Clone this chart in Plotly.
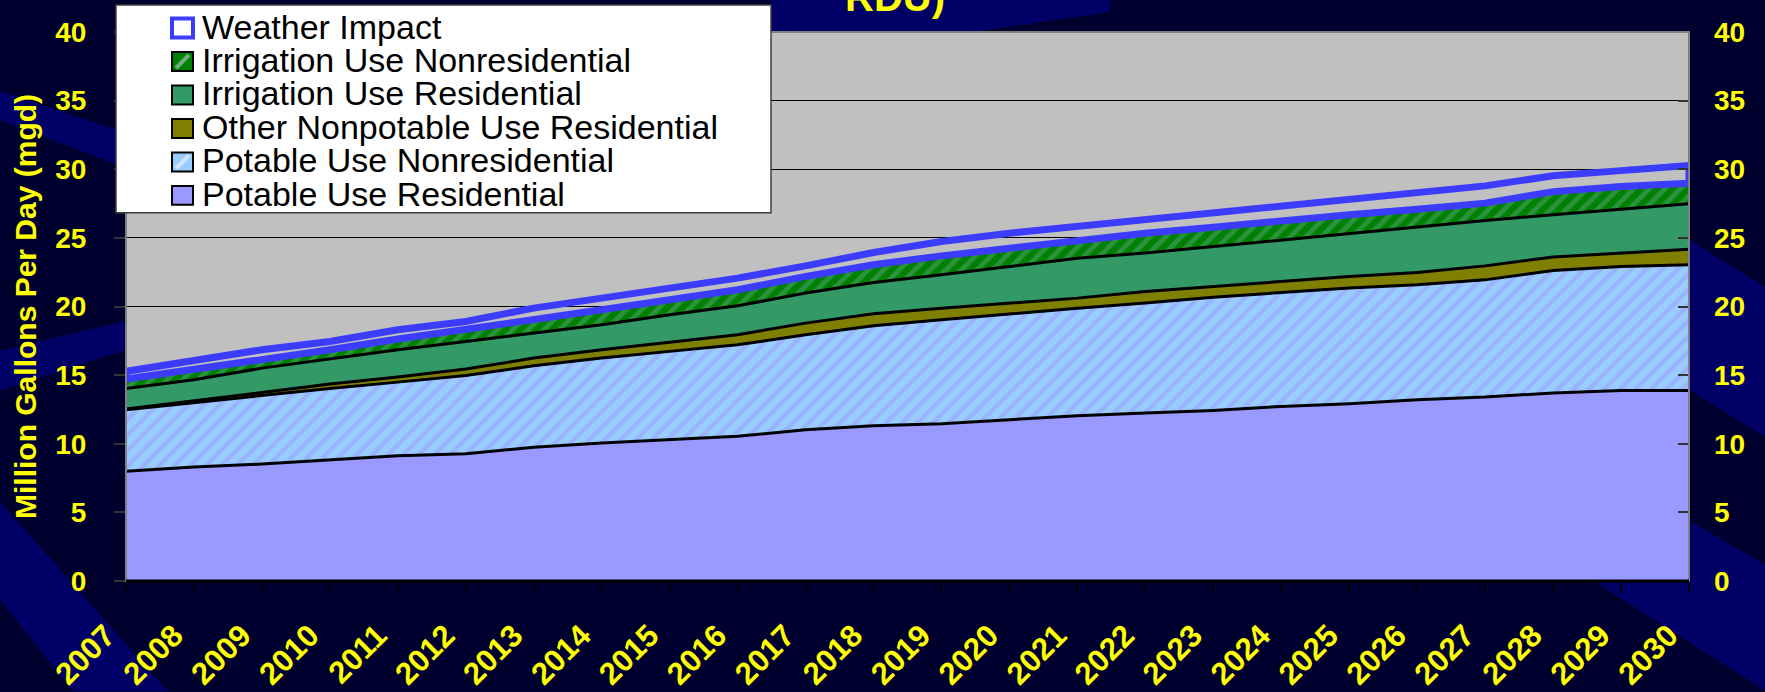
import plotly.graph_objects as go

# ---------------- data ----------------
years = list(range(2007, 2031))
year_labels = [str(y) for y in years]

potable_res = [7.99, 8.31, 8.52, 8.84, 9.13, 9.27, 9.74, 10.05, 10.29, 10.54, 11.02, 11.31,
               11.46, 11.75, 12.04, 12.24, 12.43, 12.72, 12.92, 13.21, 13.40, 13.70, 13.88, 13.88]
potable_nonres = [4.49, 4.70, 4.98, 5.19, 5.36, 5.71, 5.94, 6.19, 6.44, 6.67, 6.92, 7.28,
                  7.57, 7.72, 7.84, 8.01, 8.25, 8.30, 8.42, 8.37, 8.54, 8.92, 9.03, 9.16]
other_nonpotable_res = [0.05, 0.15, 0.24, 0.32, 0.37, 0.46, 0.56, 0.61, 0.65, 0.73, 0.85, 0.88,
                        0.85, 0.78, 0.73, 0.84, 0.78, 0.80, 0.85, 0.90, 1.02, 0.98, 0.98, 1.14]
irrigation_res = [1.50, 1.50, 1.77, 1.82, 1.99, 2.01, 1.82, 1.82, 2.02, 2.11, 2.19, 2.28,
                  2.43, 2.66, 2.91, 2.80, 2.91, 3.04, 3.15, 3.30, 3.30, 3.08, 3.20, 3.30]
irrigation_nonres = [0.68, 0.73, 0.66, 0.68, 0.78, 0.85, 1.02, 1.09, 1.09, 1.17, 1.21, 1.29,
                     1.38, 1.34, 1.28, 1.45, 1.41, 1.40, 1.34, 1.31, 1.27, 1.69, 1.65, 1.50]
weather_impact = [0.56, 0.68, 0.68, 0.60, 0.67, 0.61, 0.80, 0.85, 0.85, 0.85, 0.77, 0.89,
                  1.04, 1.09, 1.15, 1.09, 1.14, 1.14, 1.21, 1.21, 1.26, 1.15, 1.16, 1.29]

y_ticks = [0, 5, 10, 15, 20, 25, 30, 35, 40]
legend_names = ["Weather Impact", "Irrigation Use Nonresidential", "Irrigation Use Residential",
                "Other Nonpotable Use Residential", "Potable Use Nonresidential",
                "Potable Use Residential"]
title_fragment = "RDU)"
y_title = "Million Gallons Per Day (mgd)"

# ---------------- styling ----------------
W, H = 1765, 692
PL, PR, PT, PB = 126, 1689, 32, 581.4   # plot area in pixels
FONT = "Arial, Liberation Sans, sans-serif"
YEL = "#FFFF00"
BLUE = "#3C3CFF"
BASE_BG = "#00002E"
BAND = "#000066"


def px(x):
    return (x - PL) / (PR - PL)


def py(y):
    return (PB - y) / (PB - PT)


def poly(points):
    return "M " + " L ".join(f"{px(a):.5f},{py(b):.5f}" for a, b in points) + " Z"


fig = go.Figure()

line_black = dict(color="black", width=3)
fig.add_trace(go.Scatter(x=years, y=potable_res, name=legend_names[5], stackgroup="s",
                         mode="lines", line=line_black, fillcolor="#9999FF", showlegend=False))
fig.add_trace(go.Scatter(x=years, y=potable_nonres, name=legend_names[4], stackgroup="s",
                         mode="lines", line=line_black, fillcolor="#99CCFF",
                         fillpattern=dict(shape="/", bgcolor="#99CCFF", fgcolor="#9999FF",
                                          size=11, solidity=0.4),
                         showlegend=False))
fig.add_trace(go.Scatter(x=years, y=other_nonpotable_res, name=legend_names[3], stackgroup="s",
                         mode="lines", line=line_black, fillcolor="#808000", showlegend=False))
fig.add_trace(go.Scatter(x=years, y=irrigation_res, name=legend_names[2], stackgroup="s",
                         mode="lines", line=line_black, fillcolor="#339966", showlegend=False))
fig.add_trace(go.Scatter(x=years, y=irrigation_nonres, name=legend_names[1], stackgroup="s",
                         mode="lines", line=dict(color=BLUE, width=0), fillcolor="#008000",
                         fillpattern=dict(shape="/", bgcolor="#008000", fgcolor="#55A575",
                                          size=11, solidity=0.45),
                         showlegend=False))

# weather impact: hollow band outlined in blue
lower = [a + b + c + d + e for a, b, c, d, e in zip(potable_res, potable_nonres,
                                                  other_nonpotable_res, irrigation_res,
                                                  irrigation_nonres)]
upper = [l + w for l, w in zip(lower, weather_impact)]
fig.add_trace(go.Scatter(x=years + years[::-1] + [years[0]],
                         y=lower + upper[::-1] + [lower[0]],
                         name=legend_names[0], mode="lines",
                         line=dict(color=BLUE, width=7), showlegend=False))

# invisible trace for the right-hand axis
fig.add_trace(go.Scatter(x=years, y=upper, yaxis="y2", mode="lines",
                         line=dict(width=0), opacity=0, showlegend=False, hoverinfo="skip"))

shapes = []
# background bands
for pts in [
    [(0, 91), (PL, 133), (PL, 168), (0, 120)],
    [(0, 351), (PL, 321), (PL, 350), (0, 391)],
    [(0, 502), (168, 692), (73, 692), (0, 600)],
    [(771, 0), (1110, 0), (1110, 12), (973, PT), (771, PT)],
    [(PR, 240), (W, 287), (W, 437), (PR, 390)],
    [(PR, 521), (W, 565), (W, 691), (1596, 583), (PR, 583)],
]:
    shapes.append(dict(type="path", path=poly(pts), xref="paper", yref="paper",
                       fillcolor=BAND, line=dict(width=0), layer="below"))

# plot border
shapes.append(dict(type="rect", xref="paper", yref="paper", x0=0, x1=1, y0=0, y1=1,
                   line=dict(color="#808080", width=2), layer="above"))
shapes.append(dict(type="line", xref="paper", yref="paper", x0=0, x1=1, y0=0, y1=0,
                   line=dict(color="black", width=3), layer="above"))

# manual legend box
shapes.append(dict(type="rect", xref="paper", yref="paper", x0=px(116), x1=px(771),
                   y0=py(213), y1=py(5), fillcolor="white",
                   line=dict(color="#404040", width=1.5), layer="above"))

swatch_fill = ["white", "#008000", "#339966", "#808000", "#99CCFF", "#9999FF"]
swatch_line = [BLUE, "black", "black", "black", "black", "black"]
swatch_lw = [4, 2, 2, 2, 2, 2]
stripe = [None, "#6AAE7E", None, None, "#CFE4FF", None]
row_y = [28, 61.5, 95, 128.5, 162, 195.5]
annotations = []
for i, name in enumerate(legend_names):
    cy = row_y[i]
    x0, x1, y0, y1 = 172, 193, cy - 9.5, cy + 9.5
    shapes.append(dict(type="rect", xref="paper", yref="paper", x0=px(x0), x1=px(x1),
                       y0=py(y1), y1=py(y0), fillcolor=swatch_fill[i],
                       line=dict(color=swatch_line[i], width=swatch_lw[i]), layer="above"))
    if stripe[i]:
        shapes.append(dict(type="line", xref="paper", yref="paper",
                           x0=px(x0 + 4), y0=py(y1 - 3), x1=px(x1 - 4), y1=py(y0 + 3),
                           line=dict(color=stripe[i], width=4), layer="above"))
    annotations.append(dict(text=name, xref="paper", yref="paper", x=px(200), y=py(cy - 1.5),
                            xanchor="left", yanchor="middle", showarrow=False,
                            font=dict(family=FONT, size=34, color="black")))

# clipped title fragment at the top
annotations.append(dict(text=title_fragment, xref="paper", yref="paper", x=px(895), y=py(21),
                        xanchor="center", yanchor="bottom", showarrow=False,
                        font=dict(family=FONT, size=40, color=YEL, weight="bold")))

tickfont = dict(family=FONT, size=28, color=YEL, weight="bold")
xtickfont = dict(family=FONT, size=31, color=YEL, weight="bold")
fig.update_layout(
    width=W, height=H,
    margin=dict(l=PL, r=W - PR, t=PT, b=H - PB, autoexpand=False),
    paper_bgcolor=BASE_BG,
    plot_bgcolor="#C0C0C0",
    showlegend=False,
    shapes=shapes,
    annotations=annotations,
    xaxis=dict(range=[years[0], years[-1]], tickmode="array", tickvals=years,
               ticktext=year_labels, tickangle=-45, tickfont=xtickfont,
               ticks="outside", ticklen=11, tickcolor="black", tickwidth=1.5,
               showgrid=False, zeroline=False, showline=False, ticklabelstandoff=12,
               ticklabelshift=-20, automargin=False),
    yaxis=dict(range=[0, 40], tickmode="array", tickvals=y_ticks, tickfont=tickfont,
               ticks="outside", ticklen=11, tickcolor="#333333", tickwidth=1.5,
               showgrid=True, gridcolor="black", gridwidth=1, zeroline=False,
               showline=False, ticklabelstandoff=22, automargin=False,
               title=dict(text=y_title, standoff=9,
                          font=dict(family=FONT, size=30, color=YEL, weight="bold"))),
    yaxis2=dict(range=[0, 40], overlaying="y", side="right", tickmode="array",
                tickvals=y_ticks, tickfont=tickfont, ticks="inside", ticklen=11,
                tickcolor="#333333", tickwidth=1.5, showgrid=False, zeroline=False,
                showline=False, ticklabelstandoff=24, automargin=False),
)

fig.write_html("out.html", config={"displayModeBar": False},
               post_script="document.body.style.margin='0';"
                           "document.body.style.background='" + BASE_BG + "';")
